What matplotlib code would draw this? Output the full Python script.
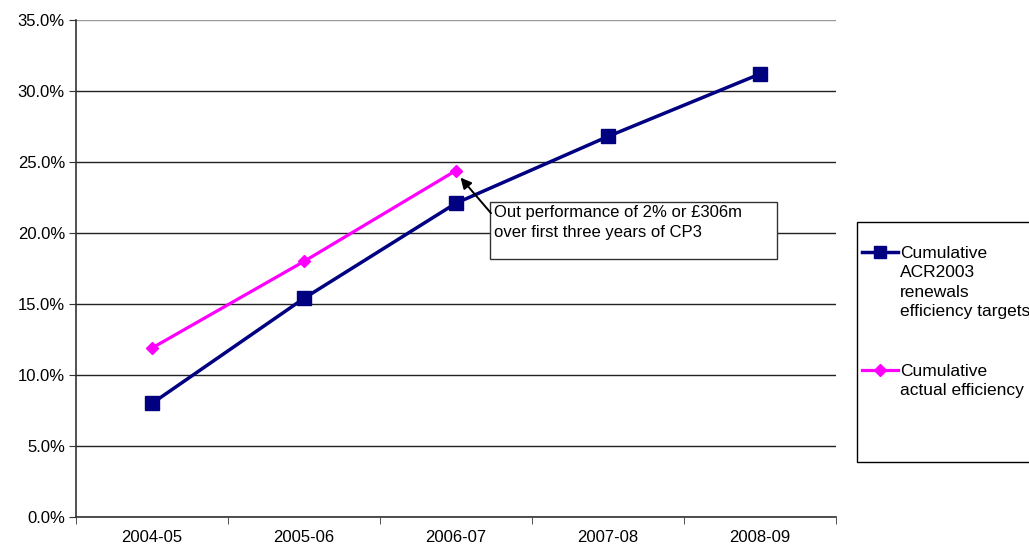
import matplotlib
matplotlib.use('Agg')
import matplotlib.pyplot as plt
from matplotlib.patches import Rectangle
from matplotlib.lines import Line2D

plt.rcParams['font.family'] = ['Liberation Sans', 'DejaVu Sans']

years = ['2004-05', '2005-06', '2006-07', '2007-08', '2008-09']
targets = [8.0, 15.4, 22.1, 26.8, 31.2]
actual = [11.9, 18.0, 24.4]
target_label = 'Cumulative\nACR2003\nrenewals\nefficiency targets'
actual_label = 'Cumulative\nactual efficiency'
note = 'Out performance of 2% or \u00a3306m\nover first three years of CP3'

W, H = 1029, 549
fig = plt.figure(figsize=(W / 100, H / 100), dpi=100)
ax = fig.add_axes([76 / W, 32 / H, 760 / W, 497 / H])

def fx(px):
    return px / W

def fy(py):
    return 1 - py / H

navy = '#000080'
pink = '#FF00FF'

x = list(range(len(years)))
ax.plot(x, targets, color=navy, lw=2.5, marker='s', ms=9.5, zorder=4)
ax.plot(x[:len(actual)], actual, color=pink, lw=2.3, marker='D', ms=6.5, zorder=5)

ax.set_xlim(-0.5, 4.5)
ax.set_ylim(0, 35)
ax.set_yticks(range(0, 40, 5))
ax.set_yticklabels(['%.1f%%' % v for v in range(0, 40, 5)], fontsize=12)
ax.set_xticks(x)
ax.set_xticklabels(years, fontsize=12)
ax.set_xticks([i - 0.5 for i in range(len(years) + 1)], minor=True)
ax.tick_params(axis='x', which='major', length=0, pad=9)
ax.tick_params(axis='x', which='minor', length=5, direction='out', color='#333333')
ax.tick_params(axis='y', length=5, direction='out', color='#333333', pad=3)

ax.grid(axis='y', color='#222222', lw=1)
ax.yaxis.get_gridlines()[-1].set_color('#999999')
ax.set_axisbelow(True)
for s in ['top', 'right']:
    ax.spines[s].set_visible(False)
for s in ['left', 'bottom']:
    ax.spines[s].set_color('#333333')
    ax.spines[s].set_linewidth(1.2)

# annotation box
ax.add_patch(Rectangle((2.224, 18.17), 1.888, 4.01, facecolor='white', edgecolor='#333333', lw=1, zorder=6))
ax.text(2.25, 21.95, note, fontsize=12, va='top', ha='left', linespacing=1.36, zorder=7)
ax.annotate('', xy=(2.03, 23.9), xytext=(2.23, 21.4),
            arrowprops=dict(arrowstyle='-|>', color='black', lw=1.4, mutation_scale=16, shrinkA=0, shrinkB=0),
            zorder=7)

# legend, drawn by hand (box runs off the right edge as in the original)
fig.add_artist(Rectangle((fx(857), fy(462)), fx(1040) - fx(857), fy(222) - fy(462),
                         transform=fig.transFigure, facecolor='white', edgecolor='black', lw=1))
entries = [(navy, 's', 8.5, 2.5, target_label, 252), (pink, 'D', 6.5, 2.3, actual_label, 370)]
for col, mk, ms, lw, lab, py in entries:
    fig.add_artist(Line2D([fx(862), fx(880), fx(898)], [fy(py)] * 3, transform=fig.transFigure,
                          color=col, lw=lw, marker=mk, ms=ms, markevery=[1]))
    fig.text(fx(900), fy(py - 6), lab, fontsize=12.5, va='top', ha='left', linespacing=1.36)

fig.savefig('out.png', dpi=100)
